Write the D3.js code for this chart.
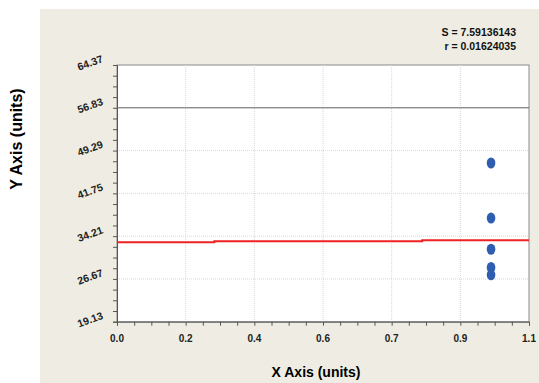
<!DOCTYPE html>
<html>
<head>
<meta charset="utf-8">
<script src="https://cdn.jsdelivr.net/npm/d3@7"></script>
<style>
  body { margin: 0; background: #fff; }
  svg { display: block; font-family: Arial, "Liberation Sans", sans-serif; }
</style>
</head>
<body>
<div id="chart"></div>
<script>
// chart values
const yTickValues = [19.13, 26.67, 34.21, 41.75, 49.29, 56.83, 64.37];
const xTickValues = [0, 0.18333, 0.36667, 0.55, 0.73333, 0.91667, 1.1];
const xTickLabels = ["0.0", "0.2", "0.4", "0.6", "0.7", "0.9", "1.1"];

const pointsX = [1.0, 1.0, 1.0, 1.0, 1.0];
const pointsY = [47.1, 37.4, 31.9, 28.7, 27.4];

const fitX = [0, 0.26, 0.815, 1.1];
const fitY = [33.12, 33.30, 33.48, 33.48];

const refLine = 56.83;
const statS = "S = 7.59136143";
const statR = "r = 0.01624035";

(function () {
    let width = 539, height = 383;
    let pLeft = 117, pRight = 529, pTop = 65, pBottom = 321.7;

    let svg = d3.select("#chart")
        .append("svg")
        .attr("width", width)
        .attr("height", height);

    // beige panel
    svg.append("rect")
        .attr("x", 40)
        .attr("y", 9)
        .attr("width", width - 40)
        .attr("height", height - 9)
        .attr("fill", "#efede3");

    let xScale = d3.scaleLinear().domain([0, 1.1]).range([pLeft, pRight]);
    let yScale = d3.scaleLinear().domain([19.13, 64.37]).range([pBottom, pTop]);

    svg.append("rect")
        .attr("x", pLeft)
        .attr("y", pTop)
        .attr("width", pRight - pLeft)
        .attr("height", pBottom - pTop)
        .attr("fill", "#fff")
        .attr("stroke", "#8a8a8a")
        .attr("stroke-width", 1);

    // dotted grid
    svg.append("g")
        .selectAll("line")
        .data(yTickValues.slice(1, -1))
        .join("line")
        .attr("x1", pLeft)
        .attr("x2", pRight)
        .attr("y1", d => yScale(d))
        .attr("y2", d => yScale(d))
        .attr("stroke", "#d8d8d8")
        .attr("stroke-dasharray", "1,1");

    svg.append("g")
        .selectAll("line")
        .data(xTickValues.slice(1, -1))
        .join("line")
        .attr("x1", d => xScale(d))
        .attr("x2", d => xScale(d))
        .attr("y1", pTop)
        .attr("y2", pBottom)
        .attr("stroke", "#d8d8d8")
        .attr("stroke-dasharray", "1,1");

    // minor + major ticks (4 subdivisions per interval)
    let minor = (vals) => {
        let out = [];
        for (let i = 0; i < vals.length - 1; i++) {
            for (let k = 0; k < 4; k++) out.push(vals[i] + (vals[i + 1] - vals[i]) * k / 4);
        }
        out.push(vals[vals.length - 1]);
        return out;
    };

    let xAxis = svg.append("g")
        .attr("transform", "translate(0," + pBottom + ")")
        .call(d3.axisBottom(xScale).tickValues(minor(xTickValues)).tickSize(4).tickFormat(""));
    xAxis.select(".domain").attr("stroke", "#555");
    xAxis.selectAll(".tick line").attr("stroke", "#555");

    let yAxis = svg.append("g")
        .attr("transform", "translate(" + pLeft + ",0)")
        .call(d3.axisLeft(yScale).tickValues(minor(yTickValues)).tickSize(4).tickFormat(""));
    yAxis.select(".domain").attr("stroke", "#555");
    yAxis.selectAll(".tick line").attr("stroke", "#555");

    // tick labels
    svg.append("g")
        .selectAll("text")
        .data(xTickValues)
        .join("text")
        .attr("x", d => xScale(d))
        .attr("y", 342)
        .attr("text-anchor", "middle")
        .attr("font-size", 10)
        .attr("font-weight", "bold")
        .attr("fill", "#222")
        .text((d, i) => xTickLabels[i]);

    svg.append("g")
        .selectAll("text")
        .data(yTickValues)
        .join("text")
        .attr("transform", d => "translate(90," + (yScale(d) - 2.5) + ") rotate(-20)")
        .attr("text-anchor", "middle")
        .attr("dominant-baseline", "central")
        .attr("font-size", 10.5)
        .attr("font-weight", "bold")
        .attr("fill", "#222")
        .text(d => d.toFixed(2));

    // reference line
    svg.append("line")
        .attr("x1", pLeft)
        .attr("x2", pRight)
        .attr("y1", yScale(refLine))
        .attr("y2", yScale(refLine))
        .attr("stroke", "#666")
        .attr("stroke-width", 1);

    // fit line
    let fit = fitX.map((x, i) => ({x: x, y: fitY[i]}));
    svg.append("path")
        .datum(fit)
        .attr("d", d3.line().x(d => xScale(d.x)).y(d => yScale(d.y)).curve(d3.curveStepAfter))
        .attr("fill", "none")
        .attr("stroke", "#ee2222")
        .attr("stroke-width", 2);

    // points
    svg.append("g")
        .selectAll("ellipse")
        .data(pointsX.map((x, i) => ({x: x, y: pointsY[i]})))
        .join("ellipse")
        .attr("cx", d => xScale(d.x) - 0.5)
        .attr("cy", d => yScale(d.y))
        .attr("rx", 4.3)
        .attr("ry", 5.5)
        .attr("fill", "#2f5db0");

    // stats
    svg.append("text")
        .attr("x", 516)
        .attr("y", 36)
        .attr("text-anchor", "end")
        .attr("font-size", 10.5)
        .attr("font-weight", "bold")
        .attr("fill", "#111")
        .text(statS);
    svg.append("text")
        .attr("x", 516)
        .attr("y", 49.5)
        .attr("text-anchor", "end")
        .attr("font-size", 10.5)
        .attr("font-weight", "bold")
        .attr("fill", "#111")
        .text(statR);

    // axis titles
    svg.append("text")
        .attr("x", 316)
        .attr("y", 377)
        .attr("text-anchor", "middle")
        .attr("font-size", 14)
        .attr("font-weight", "bold")
        .attr("fill", "#000")
        .text("X Axis (units)");

    svg.append("text")
        .attr("transform", "translate(22,139) rotate(-90)")
        .attr("text-anchor", "middle")
        .attr("font-size", 16)
        .attr("font-weight", "bold")
        .attr("fill", "#000")
        .text("Y Axis (units)");
})();
</script>
</body>
</html>
